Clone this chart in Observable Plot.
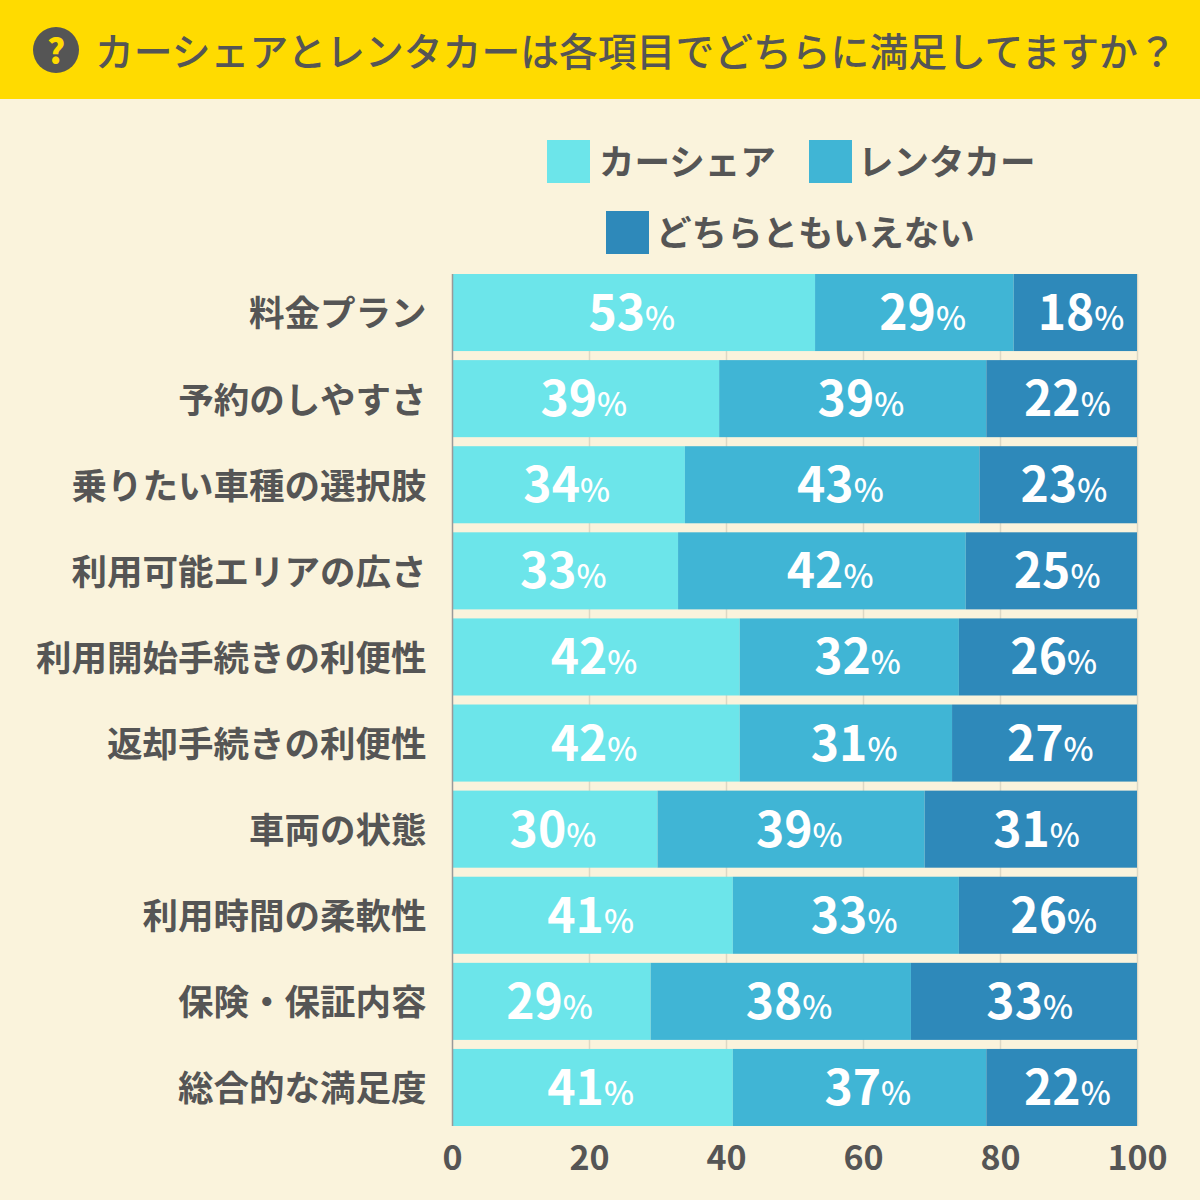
<!DOCTYPE html>
<html lang="ja">
<head>
<meta charset="utf-8">
<script src="https://cdn.jsdelivr.net/npm/d3@7"></script>
<script src="https://cdn.jsdelivr.net/npm/@observablehq/plot@0.6"></script>
<style>
html,body{margin:0;padding:0;background:#FAF3DC;width:1200px;height:1200px;overflow:hidden}
body{font-family:"Noto Sans CJK JP","Noto Sans",sans-serif;color:#555}
#head{height:99px;background:#FFDB00;position:relative}
#head .ic{position:absolute;left:33px;top:27px;width:46px;height:46px;border-radius:50%;background:#555;color:#FFDB00;font-weight:900;font-size:34px;line-height:46px;text-align:center}
#head .t{position:absolute;left:95px;top:21px;font-size:38.8px;line-height:56px;font-weight:500;white-space:nowrap}
#legend{height:175px;position:relative}
#legend .s{position:absolute;width:43px;height:43px}
#legend .l{position:absolute;font-size:35.5px;line-height:43px;font-weight:700;white-space:nowrap}
svg{display:block}
</style>
</head>
<body>
<div id="head"><div class="ic">?</div><div class="t" id="title"></div></div>
<div id="legend"></div>
<div id="chart"></div>
<script>
const titleText = "カーシェアとレンタカーは各項目でどちらに満足してますか？";
const items = ["料金プラン","予約のしやすさ","乗りたい車種の選択肢","利用可能エリアの広さ","利用開始手続きの利便性","返却手続きの利便性","車両の状態","利用時間の柔軟性","保険・保証内容","総合的な満足度"];
const seriesNames = ["カーシェア","レンタカー","どちらともいえない"];
const carShare = [53,39,34,33,42,42,30,41,29,41];
const rentaCar = [29,39,43,42,32,31,39,33,38,37];
const neither  = [18,22,23,25,26,27,31,26,33,22];
const xTicks = [0,20,40,60,80,100];
const colors = ["#6CE5EA","#40B5D5","#2E89BA"];
const ink = "#555555";

document.getElementById("title").textContent = titleText;

const legendPos = [[547,41],[809,41],[606,112]];
const legendText = [52,49,50];
const legend = document.getElementById("legend");
seriesNames.forEach((n,i)=>{
  const s=document.createElement("div");s.className="s";s.style.cssText=`left:${legendPos[i][0]}px;top:${legendPos[i][1]}px;background:${colors[i]}`;
  const l=document.createElement("div");l.className="l";l.textContent=n;l.style.cssText=`left:${legendPos[i][0]+legendText[i]}px;top:${legendPos[i][1]-2}px`;
  legend.append(s,l);
});

const seriesValues = [carShare,rentaCar,neither];
const rows = [];
items.forEach((item,i)=>{
  let start=0;
  seriesNames.forEach((series,k)=>{
    const value=seriesValues[k][i];
    rows.push({item,series,value,mid:start+value/2});
    start+=value;
  });
});

const labelShift = [-2,8,5.5];
const labelMarks = seriesNames.flatMap((name,k)=>{
  const d = rows.filter(r=>r.series===name);
  return [
    Plot.text(d,{x:"mid",y:"item",text:d=>String(d.value),fill:"white",fontSize:48,fontWeight:700,textAnchor:"end",lineAnchor:"bottom",dx:labelShift[k]+13,dy:17}),
    Plot.text(d,{x:"mid",y:"item",text:()=>"%",fill:"white",fontSize:32,fontWeight:500,textAnchor:"start",lineAnchor:"bottom",dx:labelShift[k]+13,dy:17})
  ];
});

const plot = Plot.plot({
  width:1200,
  height:926,
  marginTop:0,
  marginBottom:74,
  marginLeft:452,
  marginRight:63,
  style:{fontFamily:'"Noto Sans CJK JP","Noto Sans",sans-serif',background:"transparent",color:ink},
  x:{domain:[0,100],label:null},
  y:{domain:items,paddingInner:0.105,paddingOuter:0,round:false,label:null},
  color:{domain:seriesNames,range:colors},
  marks:[
    Plot.ruleX(xTicks.slice(1),{stroke:"#DDD8C4",strokeWidth:1.5}),
    Plot.barX(rows,Plot.stackX({x:"value",y:"item",fill:"series",order:null})),
    Plot.ruleX([0],{stroke:"#999999",strokeWidth:1.5}),
    Plot.axisY({tickSize:0,tickPadding:26,fontSize:35.5,fontWeight:700,label:null,fill:ink,dy:2}),
    Plot.axisX({ticks:xTicks,tickSize:0,tickPadding:19,fontSize:34,fontWeight:700,label:null,fill:ink}),
    ...labelMarks
  ]
});
document.getElementById("chart").append(plot);
</script>
</body>
</html>
